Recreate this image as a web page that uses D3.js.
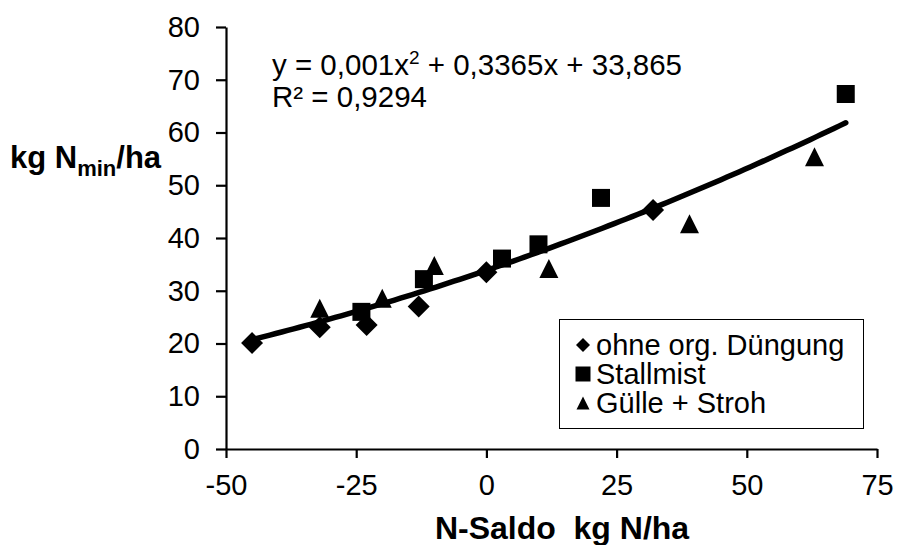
<!DOCTYPE html>
<html>
<head>
<meta charset="utf-8">
<script src="https://cdn.jsdelivr.net/npm/d3@7/dist/d3.min.js"></script>
<style>
  html, body { margin: 0; padding: 0; background: #fff; }
  svg { display: block; font-family: "Liberation Sans", Arial, sans-serif; }
</style>
</head>
<body>
<svg id="chart" width="899" height="545"></svg>
<script>
// N-Saldo (kg N/ha) vs. Nmin (kg N/ha), three fertilisation variants
const ohneX   = [-45, -32, -23, -13, 0, 32];
const ohneY   = [20.1, 23.1, 23.5, 27.0, 33.5, 45.3];
const stallX  = [-24, -12, 3, 10, 22, 69];
const stallY  = [26.0, 32.2, 36.1, 38.8, 47.6, 67.3];
const guelleX = [-32, -20, -10, 12, 39, 63];
const guelleY = [26.7, 28.6, 34.8, 34.2, 42.7, 55.4];

const seriesNames = ["ohne org. Düngung", "Stallmist", "Gülle + Stroh"];
const xTicks = [-50, -25, 0, 25, 50, 75];
const yTicks = [0, 10, 20, 30, 40, 50, 60, 70, 80];

// polynomial trend line coefficients: y = a·x² + b·x + c
const trendCoef = [0.001, 0.3365, 33.865];
const trendR2 = "0,9294";

const svg = d3.select("#chart");
const x = d3.scaleLinear().domain([-50, 75]).range([226, 877]);
const y = d3.scaleLinear().domain([0, 80]).range([449, 27]);

const FONT = 29;
const fmt = v => String(v).replace(".", ",");

// axes
const yAxis = d3.axisLeft(y).tickValues(yTicks).tickSize(10).tickSizeOuter(0).tickPadding(16);
const xAxis = d3.axisBottom(x).tickValues(xTicks).tickSize(9).tickSizeOuter(0).tickPadding(16);

const gy = svg.append("g").attr("transform", `translate(${x(-50)},0)`).call(yAxis);
const gx = svg.append("g").attr("transform", `translate(0,${y(0)})`).call(xAxis);

[gx, gy].forEach(g => {
  g.selectAll("path.domain").attr("stroke", "#000").attr("stroke-width", 2.2);
  g.selectAll(".tick line").attr("stroke", "#000").attr("stroke-width", 2.2);
  g.selectAll(".tick text").attr("fill", "#000")
    .style("font-family", '"Liberation Sans", Arial, sans-serif')
    .style("font-size", FONT + "px");
});
gx.selectAll(".tick text").text(d => String(d));

// trend line, sampled from the fitted polynomial over the data range
const allX = ohneX.concat(stallX, guelleX);
const xMin = d3.min(allX), xMax = d3.max(allX);
const trendPts = d3.range(0, 101).map(i => {
  const xv = xMin + (xMax - xMin) * i / 100;
  return [xv, trendCoef[0] * xv * xv + trendCoef[1] * xv + trendCoef[2]];
});
svg.append("path")
  .datum(trendPts)
  .attr("fill", "none")
  .attr("stroke", "#000")
  .attr("stroke-width", 5.5)
  .attr("stroke-linecap", "round")
  .attr("d", d3.line().x(d => x(d[0])).y(d => y(d[1])));

// marker shapes
function diamond(s) { const h = s / 2; return `M0,${-h}L${h},0L0,${h}L${-h},0Z`; }
function square(s)  { const h = s / 2; return `M${-h},${-h}H${h}V${h}H${-h}Z`; }
function triangle(s){ const h = s / 2; return `M0,${-h}L${h},${h}L${-h},${h}Z`; }

function drawSeries(xs, ys, shape, size) {
  svg.append("g").selectAll("path")
    .data(xs.map((v, i) => [v, ys[i]]))
    .join("path")
    .attr("transform", d => `translate(${x(d[0])},${y(d[1])})`)
    .attr("d", shape(size))
    .attr("fill", "#000");
}
drawSeries(ohneX, ohneY, diamond, 22);
drawSeries(stallX, stallY, square, 18);
drawSeries(guelleX, guelleY, triangle, 19);

// regression equation
const eq = svg.append("text")
  .attr("x", 272).attr("y", 75)
  .style("font-size", "29.5px").attr("fill", "#000");
eq.append("tspan").text(`y = ${fmt(trendCoef[0])}x`);
eq.append("tspan").attr("dy", -11).style("font-size", "19px").text("2");
eq.append("tspan").attr("dy", 11).text(` + ${fmt(trendCoef[1])}x + ${fmt(trendCoef[2])}`);
svg.append("text")
  .attr("x", 272).attr("y", 107)
  .style("font-size", "29.5px").attr("fill", "#000")
  .text(`R² = ${trendR2}`);

// axis titles
const yt = svg.append("text")
  .attr("x", 10).attr("y", 168)
  .style("font-size", "31px").style("font-weight", "bold").attr("fill", "#000");
yt.append("tspan").text("kg N");
yt.append("tspan").attr("dy", 8).style("font-size", "22px").text("min");
yt.append("tspan").attr("dy", -8).text("/ha");

svg.append("text")
  .attr("x", 562).attr("y", 539)
  .attr("text-anchor", "middle")
  .attr("xml:space", "preserve")
  .style("white-space", "pre")
  .style("font-size", "32px").style("font-weight", "bold").attr("fill", "#000")
  .text("N-Saldo  kg N/ha");

// legend
const lg = svg.append("g");
lg.append("rect")
  .attr("x", 559.5).attr("y", 319.5).attr("width", 304).attr("height", 109)
  .attr("fill", "#fff").attr("stroke", "#000").attr("stroke-width", 1);
const legShapes = [[diamond, 14], [square, 15], [triangle, 13]];
const legRowY = [345, 374, 403];
seriesNames.forEach((name, i) => {
  lg.append("path")
    .attr("transform", `translate(583,${legRowY[i]})`)
    .attr("d", legShapes[i][0](legShapes[i][1]))
    .attr("fill", "#000");
  lg.append("text")
    .attr("x", 596).attr("y", legRowY[i] + 10)
    .style("font-size", FONT + "px").attr("fill", "#000")
    .text(name);
});
</script>
</body>
</html>
